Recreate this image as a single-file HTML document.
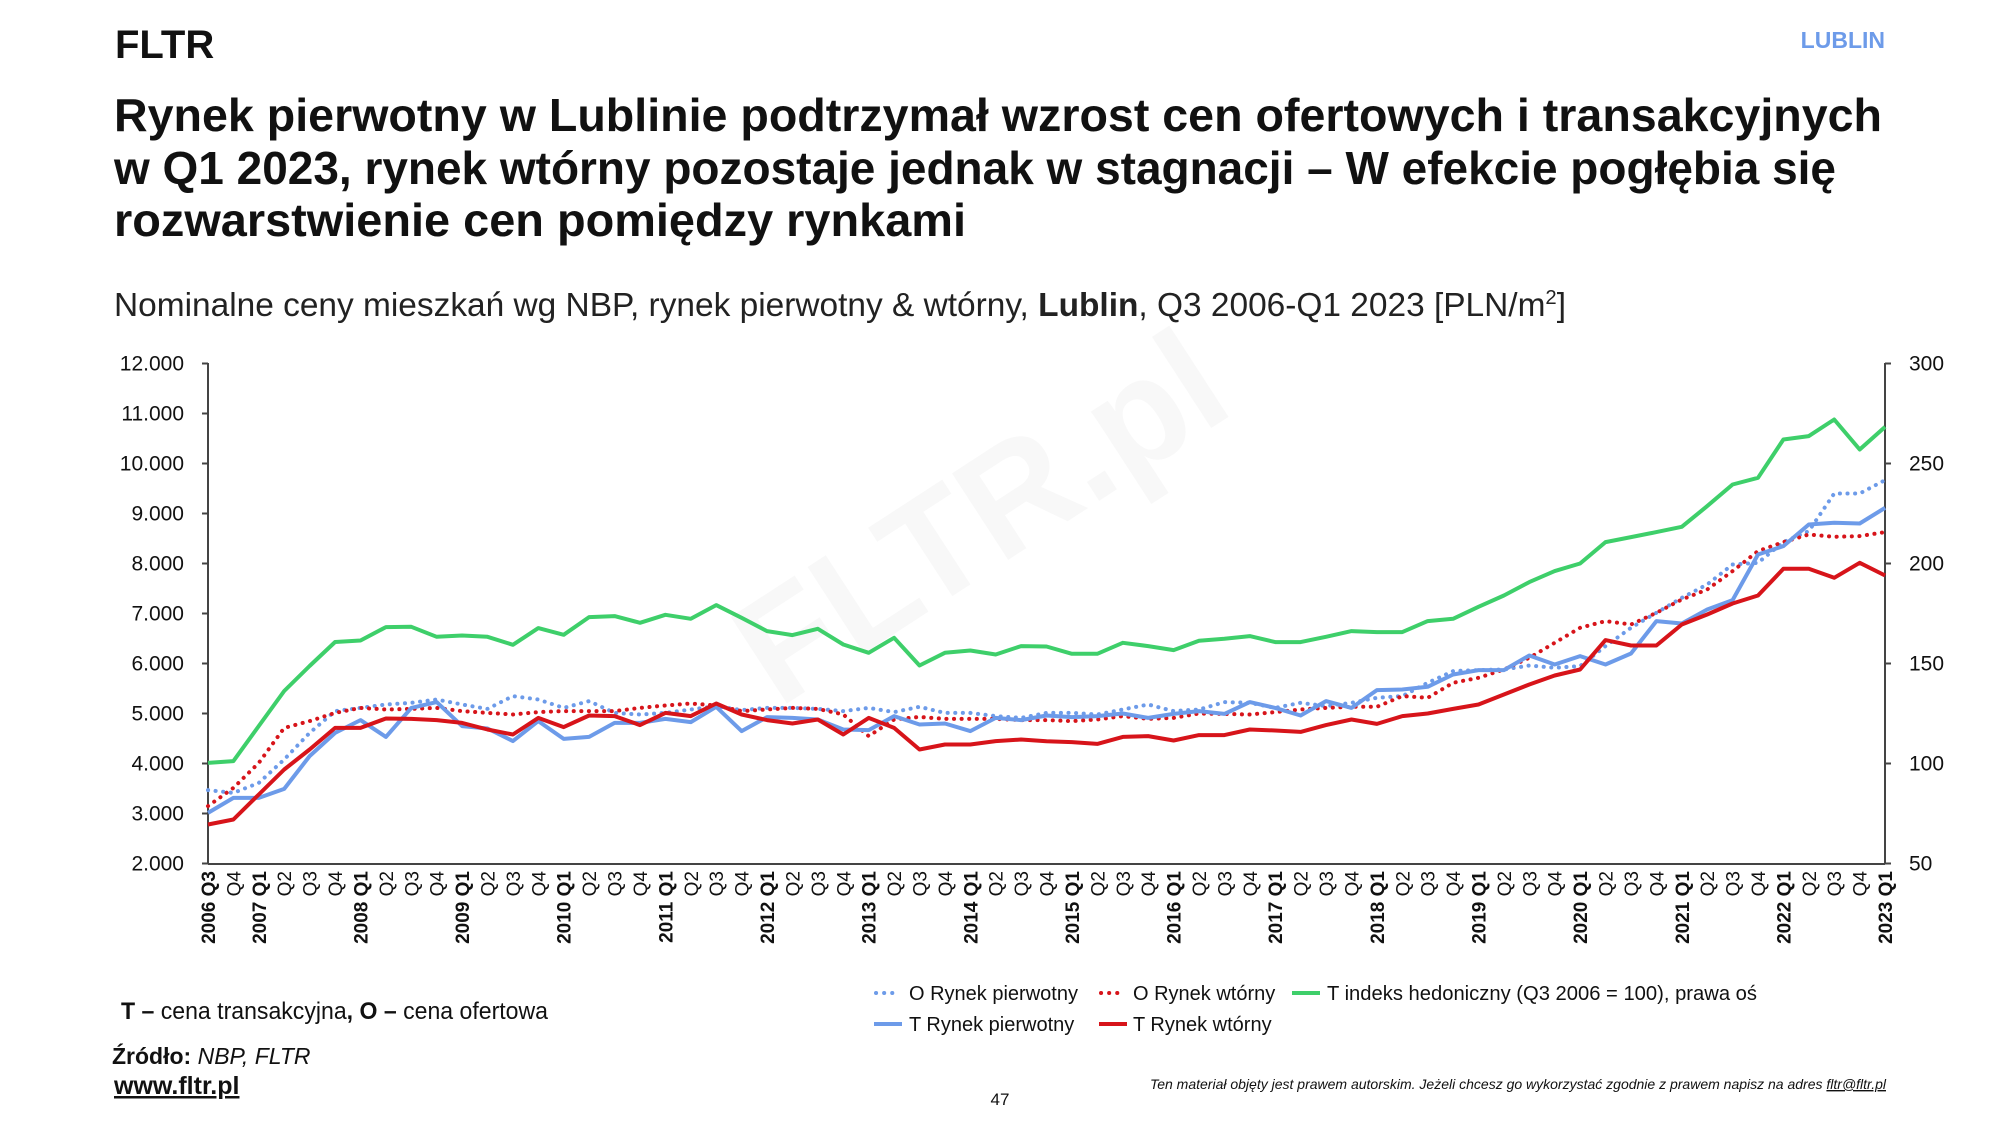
<!DOCTYPE html>
<html><head><meta charset="utf-8"><style>
html,body{margin:0;padding:0;background:#fff;}
svg{display:block;font-family:"Liberation Sans",sans-serif;}
</style></head><body>
<svg id="s" width="2000" height="1125" viewBox="0 0 2000 1125" xmlns="http://www.w3.org/2000/svg">
<rect width="2000" height="1125" fill="#fff"/>
<text x="1008" y="560" transform="rotate(-33 1008 560)" text-anchor="middle" font-size="150" font-weight="bold" fill="#f8f8f8">FLTR.pl</text>
<text x="115" y="58" font-size="40" font-weight="bold" fill="#111">FLTR</text>
<text x="1885" y="48" font-size="23" font-weight="bold" fill="#6d9be9" text-anchor="end">LUBLIN</text>
<g font-size="46" font-weight="bold" fill="#111">
<text x="114" y="131" textLength="1768" lengthAdjust="spacingAndGlyphs">Rynek pierwotny w Lublinie podtrzymał wzrost cen ofertowych i transakcyjnych</text>
<text x="114" y="184" textLength="1722" lengthAdjust="spacingAndGlyphs">w Q1 2023, rynek wtórny pozostaje jednak w stagnacji – W efekcie pogłębia się</text>
<text x="114" y="236" textLength="852" lengthAdjust="spacingAndGlyphs">rozwarstwienie cen pomiędzy rynkami</text>
</g>
<text x="114" y="316" font-size="33" fill="#222" textLength="1452" lengthAdjust="spacingAndGlyphs">Nominalne ceny mieszkań wg NBP, rynek pierwotny &amp; wtórny, <tspan font-weight="bold">Lublin</tspan>, Q3 2006-Q1 2023 [PLN/m<tspan font-size="20" dy="-12">2</tspan><tspan dy="12">]</tspan></text>
<g id="axes" stroke="#444" stroke-width="2" fill="none">
<line x1="208" y1="363" x2="208" y2="864"/>
<line x1="1885" y1="363" x2="1885" y2="864"/>
<line x1="208" y1="864" x2="1885" y2="864"/>
</g>
<g id="yl" font-size="21" fill="#111" text-anchor="end"></g>
<g id="yr" font-size="21" fill="#111"></g>
<g id="xl" font-size="19" fill="#111"></g>
<g id="lines" fill="none" stroke-linejoin="round"></g>
<g font-size="20" fill="#111">
<line x1="876" y1="993" x2="900" y2="993" stroke="#6d9be9" stroke-width="4" stroke-linecap="round" stroke-dasharray="0.1 8"/>
<text x="909" y="1000">O Rynek pierwotny</text>
<line x1="1101" y1="993" x2="1125" y2="993" stroke="#d7141a" stroke-width="4" stroke-linecap="round" stroke-dasharray="0.1 8"/>
<text x="1133" y="1000">O Rynek wtórny</text>
<line x1="1292" y1="993" x2="1320" y2="993" stroke="#3ecf6a" stroke-width="4"/>
<text x="1327" y="1000" textLength="430" lengthAdjust="spacingAndGlyphs">T indeks hedoniczny (Q3 2006 = 100), prawa oś</text>
<line x1="874" y1="1024" x2="902" y2="1024" stroke="#6d9be9" stroke-width="4"/>
<text x="909" y="1031">T Rynek pierwotny</text>
<line x1="1099" y1="1024" x2="1127" y2="1024" stroke="#d7141a" stroke-width="4"/>
<text x="1133" y="1031">T Rynek wtórny</text>
</g>
<text x="121" y="1019" font-size="24" fill="#111" textLength="427" lengthAdjust="spacingAndGlyphs"><tspan font-weight="bold">T –</tspan> cena transakcyjna<tspan font-weight="bold">, O –</tspan> cena ofertowa</text>
<text x="112" y="1064" font-size="23" fill="#111"><tspan font-weight="bold">Źródło:</tspan> <tspan font-style="italic">NBP, FLTR</tspan></text>
<text x="114" y="1094" font-size="25" font-weight="bold" fill="#111" text-decoration="underline">www.fltr.pl</text>
<text x="1000" y="1105" font-size="17" fill="#111" text-anchor="middle">47</text>
<text x="1886" y="1089" font-size="14" font-style="italic" fill="#111" text-anchor="end">Ten materiał objęty jest prawem autorskim. Jeżeli chcesz go wykorzystać zgodnie z prawem napisz na adres <tspan text-decoration="underline">fltr@fltr.pl</tspan></text>
</svg>
<script>
var NS="http://www.w3.org/2000/svg";
function el(t,a,p,txt){var e=document.createElementNS(NS,t);for(var k in a)e.setAttribute(k,a[k]);if(txt!=null)e.textContent=txt;document.getElementById(p).appendChild(e);return e;}
function Y(v){return 963.5-0.05*v;}
function X(i){return 208+i*25.41;}
for(var v=2000;v<=12000;v+=1000){var y=Y(v);
 el('line',{x1:202,y1:y,x2:208,y2:y},'axes');
 el('text',{x:184,y:y+7},'yl',(v/1000).toFixed(0)+'.000');}
for(var r=50;r<=300;r+=50){var y=863.5-(r-50)*2;
 el('line',{x1:1885,y1:y,x2:1891,y2:y},'axes');
 el('text',{x:1909,y:y+7},'yr',String(r));}
var q=3,yr=2006;
for(var i=0;i<67;i++){
 var x=X(i);var lab,b=false;
 if(q==1||i==0){lab=yr+' Q'+q;b=true;}else lab='Q'+q;
 el('text',{x:0,y:0,transform:'translate('+(x+7)+',871) rotate(-90)','text-anchor':'end','font-weight':b?'bold':'normal'},'xl',lab);
 q++;if(q>4){q=1;yr++;}
}
var green=[4013,4047,4750,5450,5950,6430,6460,6727,6733,6533,6560,6533,6373,6707,6573,6927,6947,6813,6973,6893,7167,6913,6647,6567,6693,6380,6213,6513,5960,6213,6260,6180,6347,6340,6193,6193,6413,6347,6267,6453,6493,6547,6427,6427,6533,6647,6627,6627,6847,6893,7133,7360,7627,7847,8000,8427,8527,8627,8733,9147,9580,9713,10480,10547,10880,10280,10733];
var redS=[2780,2880,3380,3880,4280,4713,4713,4900,4893,4867,4813,4680,4580,4913,4727,4960,4947,4767,5013,4947,5200,4980,4867,4800,4880,4580,4913,4713,4280,4380,4380,4447,4480,4445,4427,4393,4533,4547,4460,4567,4567,4680,4660,4633,4767,4880,4793,4947,5000,5093,5180,5380,5580,5760,5880,6467,6360,6360,6780,6980,7200,7360,7893,7893,7713,8013,7760];
var blueS=[3013,3313,3313,3493,4147,4613,4867,4533,5113,5227,4747,4700,4447,4847,4493,4533,4813,4813,4893,4827,5133,4647,4927,4913,4880,4680,4667,4947,4780,4800,4647,4913,4867,4960,4927,4947,5000,4913,4993,5047,4993,5227,5113,4960,5247,5113,5467,5480,5533,5780,5867,5867,6160,5980,6147,5980,6200,6847,6800,7080,7267,8180,8347,8780,8813,8800,9113];
var blueD=[3467,3413,3613,4080,4613,5047,5113,5180,5213,5280,5180,5093,5347,5280,5113,5247,5013,4980,5013,5080,5147,5067,5113,5113,5093,5047,5113,5027,5133,5013,5013,4947,4913,5013,5013,4980,5080,5180,5047,5080,5227,5213,5113,5213,5147,5213,5313,5347,5613,5847,5867,5880,5960,5913,5947,6347,6713,7013,7313,7580,7980,8013,8427,8647,9400,9400,9667];
var redD=[3147,3513,4013,4713,4847,5013,5113,5080,5093,5113,5047,5013,4980,5027,5047,5047,5047,5113,5160,5200,5160,5047,5080,5113,5093,4980,4547,4880,4933,4893,4893,4893,4867,4867,4847,4880,4947,4893,4913,5000,4993,4980,5027,5080,5113,5133,5133,5347,5313,5613,5713,5880,6113,6413,6713,6847,6780,7013,7280,7480,7847,8247,8427,8580,8533,8547,8627];
function pl(d,c,dot){var p=d.map(function(v,i){return X(i).toFixed(1)+','+Y(v).toFixed(1);}).join(' ');
 var a={points:p,stroke:c,'stroke-width':4};
 if(dot){a['stroke-dasharray']='0.1 7.5';a['stroke-linecap']='round';}
 el('polyline',a,'lines');}
pl(blueD,'#6d9be9',true);
pl(redD,'#d7141a',true);
pl(green,'#3ecf6a',false);
pl(blueS,'#6d9be9',false);
pl(redS,'#d7141a',false);
</script>
</body></html>
